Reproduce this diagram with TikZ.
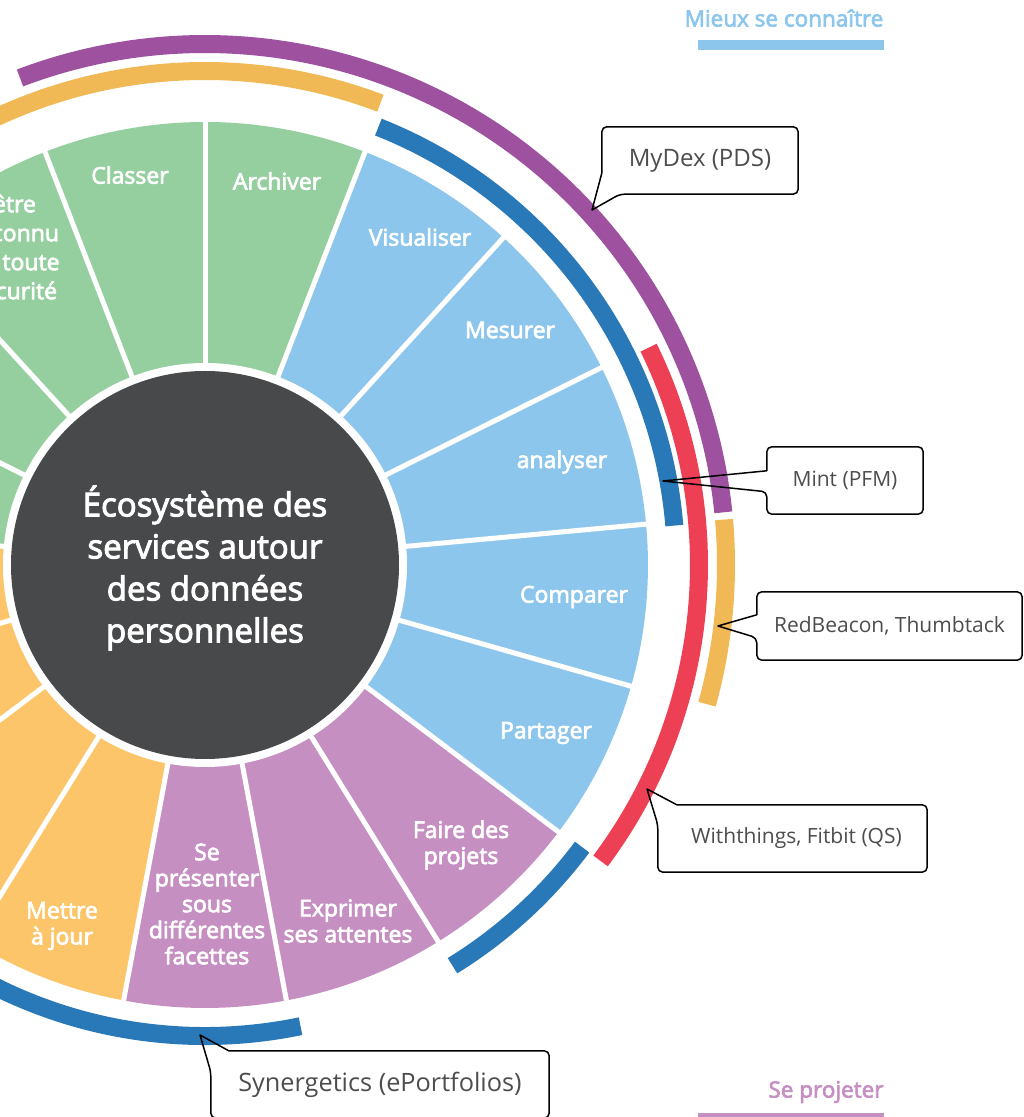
\documentclass[tikz,border=0pt]{standalone}
\usepackage{fontspec}
\setmainfont{Open Sans}
\newfontfamily\semib{Open Sans}[FakeBold=3]
\definecolor{cgreen}{HTML}{95CF9F}
\definecolor{cblue}{HTML}{8DC6EC}
\definecolor{cpurple}{HTML}{C68FC2}
\definecolor{corange}{HTML}{FDC56A}
\definecolor{cdark}{HTML}{48494B}
\definecolor{abluearc}{HTML}{2978B7}
\definecolor{aredarc}{HTML}{EE4055}
\definecolor{apurplearc}{HTML}{9D519F}
\definecolor{aorangearc}{HTML}{F1B956}
\definecolor{ctextgray}{HTML}{4D4D4D}
\tikzset{
  lbl/.style={text=white, font=\semib\fontsize{23}{26}\selectfont, align=center, inner sep=0pt},
  ctext/.style={text=ctextgray, font=\fontsize{21}{25}\selectfont, inner sep=0pt},
  cline/.style={draw=black, line width=1.5pt, line join=round},
  band/.style={line width=18pt},
  sepline/.style={white, line width=5pt},
  legtext/.style={font=\semib\fontsize{22.5}{26}\selectfont, inner sep=0pt},
}
\begin{document}
\begin{tikzpicture}[x=1pt,y=1pt]
\useasboundingbox (0,0) rectangle (1024,1117);
\clip (0,0) rectangle (1024,1117);
\coordinate (C) at (205,552);
\begin{scope}[shift={(205,552)}]
  \pgfmathsetmacro{\stp}{360/17}
  \foreach \k/\col in {0/cgreen,1/cblue,2/cblue,3/cblue,4/cblue,5/cblue,6/cpurple,7/cpurple,8/cpurple,9/corange,10/corange,11/corange,12/corange,13/cgreen,14/cgreen,15/cgreen,16/cgreen}{
    \pgfmathsetmacro{\sa}{90-(\k+1)*\stp}
    \pgfmathsetmacro{\ea}{90-\k*\stp}
    \fill[\col] (0,0) -- (\sa:443pt) arc[start angle=\sa, end angle=\ea, radius=443pt] -- cycle;
  }
  \foreach \k in {0,...,16}{
    \draw[sepline] (0,0) -- ({90-\k*\stp}:447pt);
  }
  \fill[white] (0,0) circle[radius=202pt];
  \fill[cdark] (0,0) circle[radius=194pt];
  % outer bands
  \draw[band, abluearc] (68.4:471pt) arc[start angle=68.4, end angle=4.8, radius=471pt];
  \draw[band, abluearc] (-36.8:471pt) arc[start angle=-36.8, end angle=-58.3, radius=471pt];
  \draw[band, abluearc] (-78.3:471pt) arc[start angle=-78.3, end angle=-160, radius=471pt];
  \draw[band, aredarc] (26.1:494pt) arc[start angle=26.1, end angle=-36.8, radius=494pt];
  \draw[band, aorangearc] (69.2:494pt) arc[start angle=69.2, end angle=160, radius=494pt];
  \draw[band, apurplearc] (110.8:521pt) arc[start angle=110.8, end angle=5.8, radius=521pt];
  \draw[band, aorangearc] (5.0:521pt) arc[start angle=5.0, end angle=-15.5, radius=521pt];
\end{scope}

% centre
\node[text=white, font=\semib\fontsize{33}{42}\selectfont, align=center, inner sep=0pt] (ctr) at (205,549)
  {Écosystème des\\services autour\\des données\\personnelles};

% wedge labels
\node[lbl] (lClasser) at (130,942) {Classer};
\node[lbl] (lArchiver) at (277,936) {Archiver};
\node[lbl] (lVisualiser) at (420,880) {Visualiser};
\node[lbl] (lMesurer) at (510,787) {Mesurer};
\node[lbl] (lanalyser) at (562,655) {analyser};
\node[lbl] (lComparer) at (574,520) {Comparer};
\node[lbl] (lPartager) at (546,384) {Partager};
\node[lbl] (lFaire) at (461,272) {Faire des\\projets};
\node[lbl] (lExprimer) at (348,196) {Exprimer\\ses attentes};
\node[lbl] (lSe) at (207,213) {Se\\présenter\\sous\\différentes\\facettes};
\node[lbl] (lMettre) at (62,191) {Mettre\\à jour};
\node[lbl, font=\semib\fontsize{23}{29}\selectfont] (lEtre) at (14.5,870) {être\\reconnu\\en toute\\sécurité};

% callouts
\node[ctext, font=\fontsize{24}{28}\selectfont, minimum width=196pt, minimum height=67pt] (mydex) at (700,956.5) {MyDex (PDS)};
\coordinate (mydextip) at (592,907);
\draw[cline] (mydex.north east) [rounded corners=5pt] -- (mydex.south east) -- ([xshift=18pt]mydex.south west) [sharp corners] -- (mydextip) -- ([yshift=21pt]mydex.south west) [rounded corners=5pt] -- (mydex.north west) -- cycle;

\node[ctext, minimum width=156pt, minimum height=67pt] (mint) at (845,636.5) {Mint (PFM)};
\coordinate (minttip) at (663,636);
\draw[cline] (mint.north east) [rounded corners=5pt] -- (mint.south east) -- (mint.south west) -- ([yshift=-45pt]mint.north west) [sharp corners] -- (minttip) -- ([yshift=-24pt]mint.north west) [rounded corners=5pt] -- (mint.north west) -- cycle;

\node[ctext, minimum width=265pt, minimum height=68pt] (redb) at (889.5,491) {RedBeacon, Thumbtack};
\coordinate (redbtip) at (718,491);
\draw[cline] (redb.north east) [rounded corners=5pt] -- (redb.south east) -- (redb.south west) -- ([yshift=-46pt]redb.north west) [sharp corners] -- (redbtip) -- ([yshift=-23pt]redb.north west) [rounded corners=5pt] -- (redb.north west) -- cycle;

\node[ctext, minimum width=269pt, minimum height=67pt] (with) at (792.5,278.5) {\hspace*{8pt}Withthings, Fitbit (QS)};
\coordinate (withtip) at (647,328);
\draw[cline] (with.north east) [rounded corners=5pt] -- (with.south east) -- (with.south west) -- ([yshift=-20pt]with.north west) [sharp corners] -- (withtip) -- ([xshift=19pt]with.north west) [rounded corners=5pt] -- cycle;

\node[ctext, font=\fontsize{25.3}{29}\selectfont, minimum width=338pt, minimum height=67pt] (syn) at (380,32.5) {Synergetics (ePortfolios)};
\coordinate (syntip) at (200,82);
\draw[cline] (syn.north east) [rounded corners=5pt] -- (syn.south east) -- (syn.south west) -- ([yshift=-21pt]syn.north west) [sharp corners] -- (syntip) -- ([xshift=18pt]syn.north west) [rounded corners=5pt] -- cycle;

% legend
\node[legtext, text=cblue] (legA) at (784,1099) {Mieux se connaître};
\fill[cblue] (698,1067) rectangle (884,1077);
\node[legtext, text=cpurple] (legB) at (826,25) {Se projeter};
\fill[cpurple] (698,-6) rectangle (884,4);
\end{tikzpicture}
\end{document}
